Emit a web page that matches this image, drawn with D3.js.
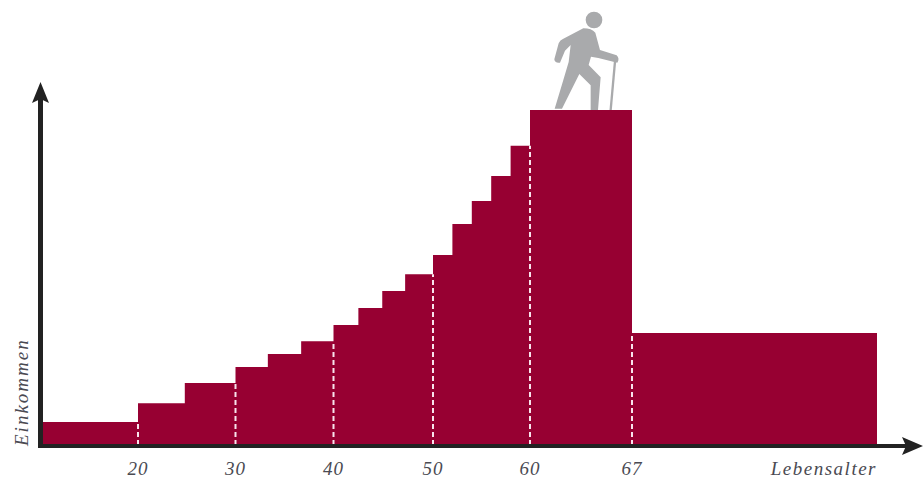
<!DOCTYPE html>
<html>
<head>
<meta charset="utf-8">
<script src="https://cdn.jsdelivr.net/npm/d3@7"></script>
<style>
  html, body { margin: 0; padding: 0; background: #fff; overflow: hidden; }
  text { font-family: "Liberation Serif", serif; font-style: italic; fill: #4a4a52; }
</style>
</head>
<body>
<div id="chart"></div>
<script>
// Age where each step starts, last entry closes the final step
const stepAges = [10, 20, 24.8, 30, 33.3, 36.7, 40, 42.5, 44.9, 47.2, 50, 52, 54, 56, 58, 60, 67, 92]
// Income of each step, 0-100 (no unit in the picture)
const stepIncome = [6.9, 12.5, 18.5, 23.3, 27.2, 31, 35.8, 40.9, 46, 51, 56.7, 66, 72.8, 80.3, 89.3, 100, 33.4]
const tickAges = [20, 30, 40, 50, 60, 67]

const WIDTH = 923
const HEIGHT = 480

const svg = d3.select("#chart")
    .append("svg")
    .attr("width", WIDTH)
    .attr("height", HEIGHT)

// The age axis is not to scale: 60-67 is wider than the decades before it
const x = d3.scaleLinear()
    .domain([10, 20, 30, 40, 50, 60, 67, 92])
    .range([41, 138, 235.5, 333.5, 433, 530, 632, 877])

const y = d3.scaleLinear()
    .domain([0, 100])
    .range([445, 110])

// Stepped income area, one shape so no seams show between the steps
const area = d3.area()
    .curve(d3.curveStepAfter)
    .x(d => x(d.age))
    .y0(y(0))
    .y1(d => y(d.income))

const steps = stepAges.map((age, i) => ({
    age: age,
    income: i < stepIncome.length ? stepIncome[i] : stepIncome[i - 1]
}))

svg.append("path")
    .datum(steps)
    .attr("d", area)
    .style("fill", "#970032")

// Dashed guides run up to the lower of the two neighbouring steps
const guideTop = age => {
    const i = stepAges.indexOf(age)
    return Math.min(stepIncome[i - 1], stepIncome[i])
}

svg.append("g")
    .selectAll("line")
    .data(tickAges)
    .enter()
    .append("line")
    .attr("x1", d => x(d))
    .attr("x2", d => x(d))
    .attr("y1", y(0))
    .attr("y2", d => y(guideTop(d)))
    .style("stroke", "#f8e4ec")
    .style("stroke-width", 2)
    .style("stroke-dasharray", "5 3")

// Axes with arrow heads
const axisColor = "#222222"
svg.append("line")
    .attr("x1", 40.5).attr("x2", 40.5)
    .attr("y1", 447.5).attr("y2", 98)
    .style("stroke", axisColor)
    .style("stroke-width", 5)
svg.append("path")
    .attr("d", "M40.5,82 L49,103 L40.5,99 L32,103 Z")
    .style("fill", axisColor)
svg.append("line")
    .attr("x1", 38).attr("x2", 908)
    .attr("y1", 446).attr("y2", 446)
    .style("stroke", axisColor)
    .style("stroke-width", 4)
svg.append("path")
    .attr("d", "M923,446 L902,437 L906,446 L902,455 Z")
    .style("fill", axisColor)

// Tick labels
svg.append("g")
    .selectAll("text")
    .data(tickAges)
    .enter()
    .append("text")
    .attr("x", d => x(d))
    .attr("y", 475)
    .attr("text-anchor", "middle")
    .style("font-size", "19px")
    .style("letter-spacing", "1px")
    .text(d => d)

svg.append("text")
    .attr("x", 877)
    .attr("y", 475)
    .attr("text-anchor", "end")
    .style("font-size", "19px")
    .style("letter-spacing", "1.5px")
    .text("Lebensalter")

svg.append("text")
    .attr("transform", "translate(28,446) rotate(-90)")
    .style("font-size", "19px")
    .style("letter-spacing", "2px")
    .text("Einkommen")

// Hiker on top of the peak
const hiker = svg.append("g")
    .attr("transform", "translate(520,0) scale(0.3333)")
    .style("fill", "#a9aaac")
hiker.append("circle")
    .attr("cx", 222).attr("cy", 60).attr("r", 25)
hiker.append("path")
    .attr("d", "M190,85 Q215,85 226,98 L240,150 L290,166 Q300,176 292,188 L235,174 L213,170 L206,195 L242,232 L234,330 L212,330 L212,256 L178,222 L126,326 L104,326 L130,240 L146,186 L152,135 L135,152 L120,188 Q104,190 103,178 L116,130 Q120,120 130,116 Z")
hiker.append("line")
    .attr("x1", 285).attr("y1", 185)
    .attr("x2", 272).attr("y2", 330)
    .style("stroke", "#a9aaac")
    .style("stroke-width", 7)
</script>
</body>
</html>
